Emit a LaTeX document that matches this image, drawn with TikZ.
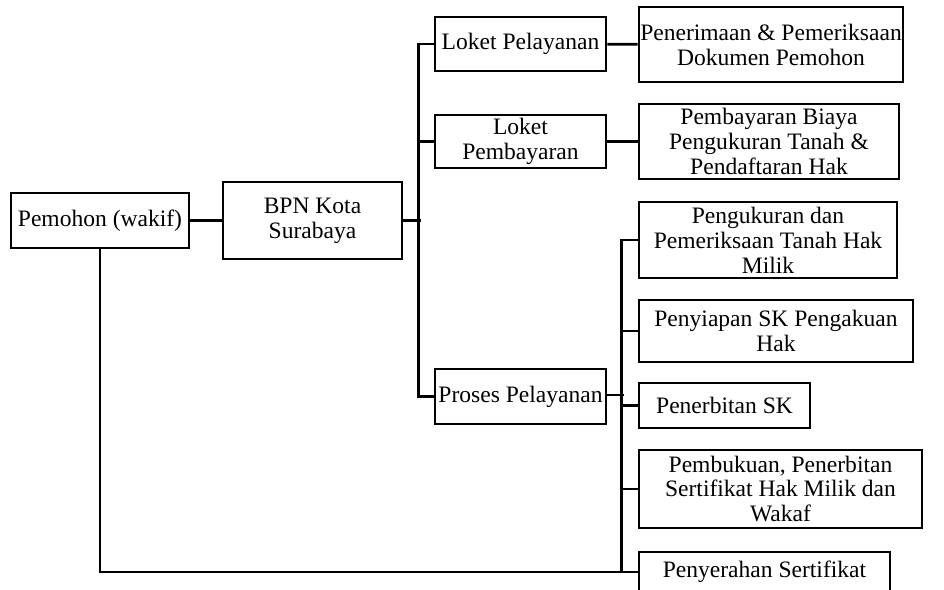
\documentclass[tikz,border=0pt]{standalone}
\usepackage{fontspec}
\setmainfont{Liberation Serif}
\usepackage{tikz}
\usetikzlibrary{positioning}

\tikzset{
    box/.style={draw, line width=1.6pt, align=center, inner sep=0pt, fill=white},
    link/.style={line width=1.6pt}
}

\begin{document}
\begin{tikzpicture}[x=0.02cm, y=-0.02cm, font=\fontsize{13.4}{14.2}\selectfont]
    % Page frame
    \useasboundingbox (0,0) rectangle (944,590);
    \clip (0,0) rectangle (944,590);

    % Left part
    \node[box, minimum width=3.56cm, minimum height=1.10cm] (pemohon) at (100,220.5) {Pemohon (wakif)};
    \node[box, minimum width=3.58cm, minimum height=1.54cm] (bpn) at (312.5,220.5) {BPN Kota\\Surabaya};

    % Counters
    \node[box, minimum width=3.42cm, minimum height=1.08cm] (loketpel) at (520.5,44) {Loket Pelayanan};
    \node[box, minimum width=3.42cm, minimum height=1.06cm] (loketbayar) at (520.5,141.5) {Loket\\Pembayaran};
    \node[box, minimum width=3.42cm, minimum height=1.10cm] (proses) at (520.5,396.5) {Proses Pelayanan};

    % Counter tasks
    \node[box, minimum width=5.28cm, minimum height=1.50cm] (terima) at (771,44.5) {Penerimaan \& Pemeriksaan\\Dokumen Pemohon};
    \node[box, minimum width=5.20cm, minimum height=1.50cm] (bayar) at (769,141.5) {Pembayaran Biaya\\Pengukuran Tanah \&\\Pendaftaran Hak};

    % Service steps
    \node[box, minimum width=5.16cm, minimum height=1.52cm] (ukur) at (768,240) {Pengukuran dan\\Pemeriksaan Tanah Hak\\Milik};
    \node[box, minimum width=5.48cm, minimum height=1.24cm] (siap) at (776,331) {Penyiapan SK Pengakuan\\Hak};
    \node[box, minimum width=3.42cm, minimum height=0.90cm] (terbit) at (724.5,405.5) {Penerbitan SK};
    \node[box, minimum width=5.66cm, minimum height=1.56cm] (buku) at (780.5,489) {Pembukuan, Penerbitan\\Sertifikat Hak Milik dan\\Wakaf};
    \node[box, minimum width=5.02cm, minimum height=0.80cm] (serah) at (764.5,572) {Penyerahan Sertifikat};

    % Connectors
    \draw[link] (pemohon) -- (bpn);
    \draw[link] (bpn.east) -- ++(18,0);
    \draw[link] (loketpel.west) -- ++(-15,0) |- (proses.west);
    \draw[link] (loketbayar.west) -- ++(-15,0);
    \draw[link] (loketpel) -- (terima);
    \draw[link] (loketbayar) -- (bayar);

    % Second trunk
    \draw[link] (ukur.west) -- ++(-16,0) |- (serah.west);
    \draw[link] (siap.west) -- ++(-16,0);
    \draw[link] (terbit.west) -- ++(-16,0);
    \draw[link] (buku.west) -- ++(-16,0);
    \draw[link] ([yshift=0.03cm]proses.east) -- ++(17,0);

    % Back to applicant
    \draw[link] (pemohon.south) |- (serah.west);
\end{tikzpicture}
\end{document}
